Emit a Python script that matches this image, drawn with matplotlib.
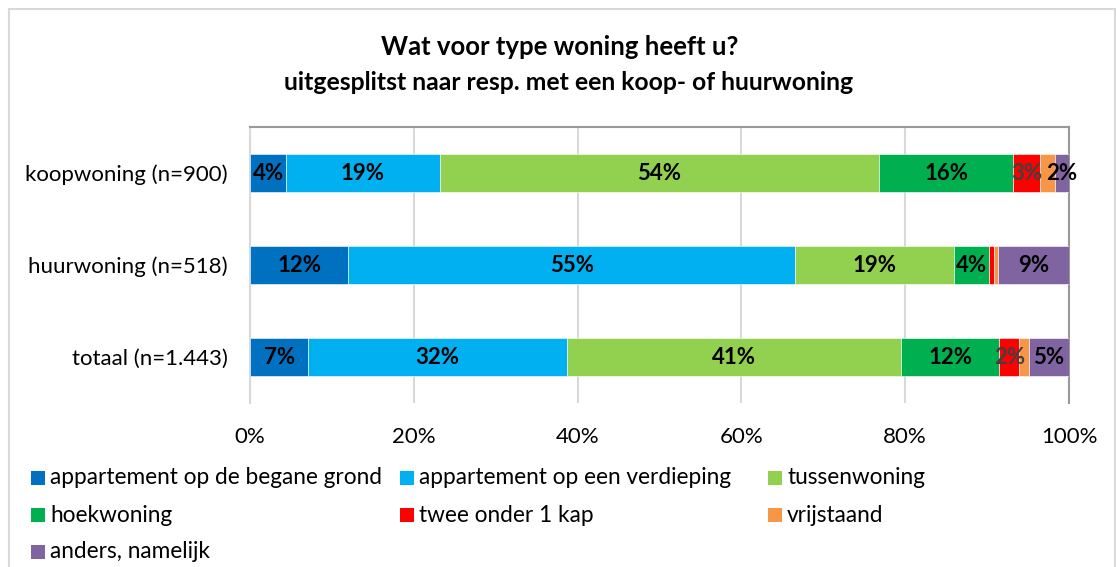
import matplotlib
matplotlib.use("Agg")
import matplotlib.pyplot as plt
from matplotlib.patches import Rectangle
import numpy as np

plt.rcParams['font.family'] = ['Lato', 'DejaVu Sans']

categories = ["koopwoning (n=900)", "huurwoning (n=518)", "totaal (n=1.443)"]
series = ["appartement op de begane grond", "appartement op een verdieping",
          "tussenwoning", "hoekwoning", "twee onder 1 kap", "vrijstaand",
          "anders, namelijk"]
colors = ["#0070C0", "#00B0F0", "#92D050", "#00B050", "#FF0000", "#F79646", "#8064A2"]

# values per series, order: koop, huur, totaal
begane_grond = [4.4, 12.0, 7.1]
verdieping = [18.8, 54.6, 31.6]
tussenwoning = [53.6, 19.3, 40.8]
hoekwoning = [16.4, 4.3, 12.0]
twee_onder_1_kap = [3.3, 0.7, 2.4]
vrijstaand = [1.8, 0.4, 1.2]
anders = [1.7, 8.7, 4.9]
values = [begane_grond, verdieping, tussenwoning, hoekwoning,
          twee_onder_1_kap, vrijstaand, anders]

# which labels are shown (orange labels hidden, tiny ones hidden)
show_label = [
    [True, True, True],
    [True, True, True],
    [True, True, True],
    [True, True, True],
    [True, False, True],
    [False, False, False],
    [True, True, True],
]
label_colors = ["black", "black", "black", "black", "#404040", "black", "black"]

W, H = 11.16, 5.67
fig = plt.figure(figsize=(W, H), dpi=100)

# outer border
fig.patches.append(Rectangle((8.5 / 1116, -0.05), (1115 - 8.5) / 1116, 1.05 - 8.5 / 567,
                             transform=fig.transFigure, fill=False,
                             edgecolor="#D9D9D9", linewidth=1.5, zorder=0))

x0, x1 = 250, 1069
y_top, y_bot = 127, 403
ax = fig.add_axes([x0 / 1116, 1 - y_bot / 567, (x1 - x0) / 1116, (y_bot - y_top) / 567])

ypos = np.arange(len(categories))
left = np.zeros(len(categories))
for i, (vals, col) in enumerate(zip(values, colors)):
    vals = np.array(vals)
    ax.barh(ypos, vals, left=left, height=0.41, color=col, label=series[i],
            edgecolor="white", linewidth=0.4, zorder=3)
    for j, v in enumerate(vals):
        if show_label[i][j]:
            ax.text(left[j] + v / 2, ypos[j], f"{round(v):.0f}%", ha="center", va="center",
                    fontsize=16, fontweight="bold", color=label_colors[i], zorder=4)
    left += vals

ax.set_xlim(0, 100)
ax.set_ylim(2.5, -0.5)
ax.set_yticks(ypos)
ax.set_yticklabels(categories, fontsize=16)
ax.set_xticks(np.arange(0, 101, 20))
ax.set_xticklabels([f"{t}%" for t in range(0, 101, 20)], fontsize=16)
ax.tick_params(axis="y", length=0, pad=16)
ax.tick_params(axis="x", length=0, pad=17)
ax.grid(axis="x", color="#D9D9D9", linewidth=1.5, zorder=0)
for s in ["top", "right"]:
    ax.spines[s].set_color("#999999")
    ax.spines[s].set_linewidth(1.5)
ax.spines["left"].set_color("#D9D9D9")
ax.spines["left"].set_linewidth(1.5)
ax.spines["bottom"].set_visible(False)

fig.text(560 / 1116, 1 - 47 / 567, "Wat voor type woning heeft u?", ha="center", va="center",
         fontsize=18.5, fontweight="bold")
fig.text(569 / 1116, 1 - 82 / 567, "uitgesplitst naar resp. met een koop- of huurwoning",
         ha="center", va="center", fontsize=17.8, fontweight="bold")

# legend (manual grid)
col_x = [31, 400, 768]
row_y = [478, 515, 552]
for k, (name, col) in enumerate(zip(series, colors)):
    r, c = divmod(k, 3)
    mx, my = col_x[c], row_y[r]
    fig.patches.append(Rectangle((mx / 1116, 1 - (my + 7) / 567), 14 / 1116, 14 / 567,
                                 transform=fig.transFigure, facecolor=col, edgecolor="none"))
    fig.text((mx + 19) / 1116, 1 - my / 567, name, ha="left", va="center", fontsize=16.3)

fig.savefig("out.png", dpi=100)
